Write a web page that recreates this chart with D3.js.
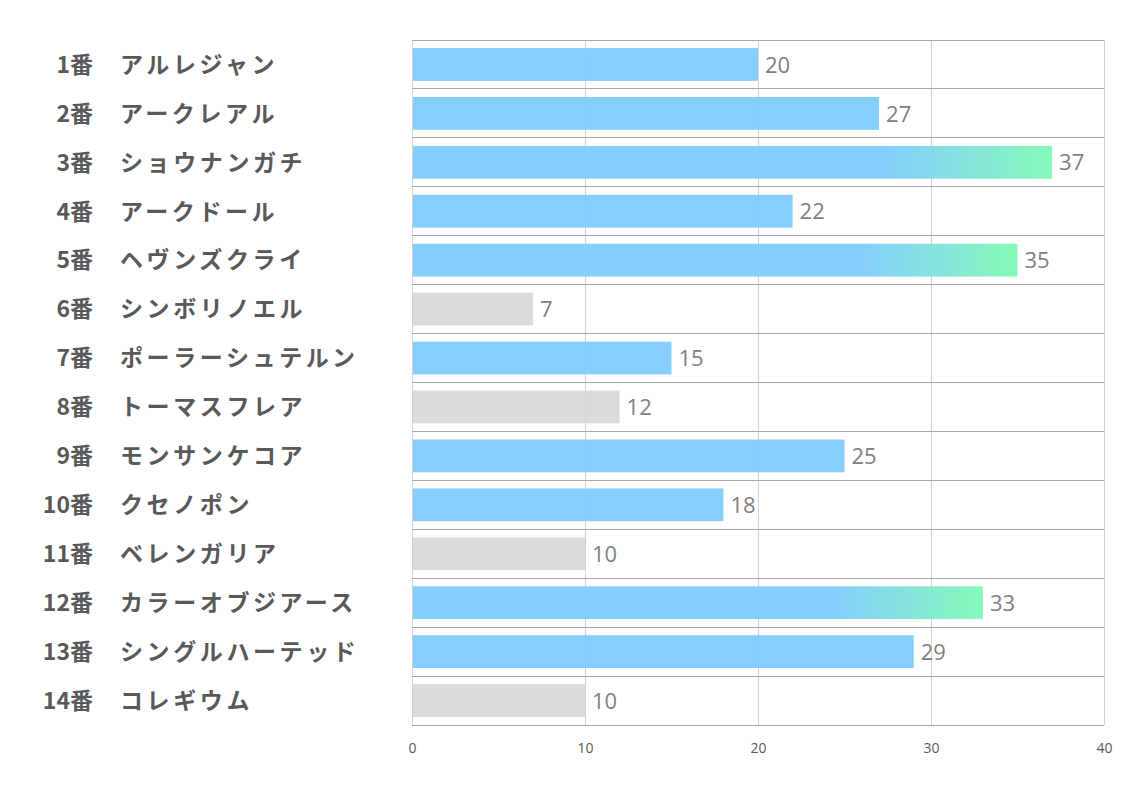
<!DOCTYPE html>
<html><head><meta charset="utf-8">
<script src="https://cdn.jsdelivr.net/npm/d3@7"></script>
<style>
html,body{margin:0;padding:0;background:#fff;}
svg{display:block;}
</style></head>
<body>
<svg id="chart" width="1134" height="793"></svg>
<script>
const numbers = ["1番","2番","3番","4番","5番","6番","7番","8番","9番","10番","11番","12番","13番","14番"];
const names = ["アルレジャン","アークレアル","ショウナンガチ","アークドール","ヘヴンズクライ","シンボリノエル","ポーラーシュテルン","トーマスフレア","モンサンケコア","クセノポン","ベレンガリア","カラーオブジアース","シングルハーテッド","コレギウム"];
const values = [20,27,37,22,35,7,15,12,25,18,10,33,29,10];
const kinds = ["blue","blue","grad","blue","grad","gray","blue","gray","blue","blue","gray","grad","blue","gray"];
const xTicks = [0,10,20,30,40];

const svg = d3.select("#chart");
const pLeft = 412, pRight = 1104, pTop = 40, pBottom = 725;
const x = d3.scaleLinear().domain([0,40]).range([pLeft,pRight]);
const y = d3.scaleBand().domain(numbers).range([pTop,pBottom]).paddingInner(0.33).paddingOuter(0.165);
const step = y.step();

const defs = svg.append("defs");
const g = defs.append("linearGradient").attr("id","grad").attr("x1","0").attr("x2","1").attr("y1","0").attr("y2","0");
g.append("stop").attr("offset","0.74").attr("stop-color","#7ecbfd");
g.append("stop").attr("offset","1").attr("stop-color","#7ffab5");

const fills = {blue:"#7ecbfd", gray:"#d9d9d9", grad:"url(#grad)"};

// vertical grid
svg.append("g").selectAll("line").data(xTicks).join("line")
  .attr("x1",d=>x(d)).attr("x2",d=>x(d)).attr("y1",pTop).attr("y2",pBottom)
  .attr("stroke","#d3d3d3").attr("stroke-width",1).attr("shape-rendering","crispEdges");

// horizontal row lines
const bounds = d3.range(numbers.length+1).map(i=>pTop+i*step);
svg.append("g").selectAll("line").data(bounds).join("line")
  .attr("x1",pLeft).attr("x2",pRight).attr("y1",d=>d).attr("y2",d=>d)
  .attr("stroke","#a6a6a6").attr("stroke-width",1).attr("shape-rendering","crispEdges");

// bars
svg.append("g").selectAll("rect").data(values).join("rect")
  .attr("x",x(0)+1).attr("y",(d,i)=>y(numbers[i]))
  .attr("width",d=>x(d)-x(0)-1).attr("height",y.bandwidth())
  .attr("fill",(d,i)=>fills[kinds[i]]).attr("opacity",0.95);

// value labels
svg.append("g").selectAll("text").data(values).join("text")
  .attr("x",d=>x(d)+7).attr("y",(d,i)=>y(numbers[i])+y.bandwidth()/2)
  .attr("dy","0.37em")
  .attr("font-family","'Open Sans','Noto Sans',sans-serif").attr("font-size",22)
  .attr("fill","#808080").text(d=>d);

// category labels
const lab = svg.append("g");
lab.selectAll("text.num").data(numbers).join("text").attr("class","num")
  .attr("x",93).attr("y",d=>y(d)+y.bandwidth()/2).attr("dy","0.36em")
  .attr("text-anchor","end")
  .attr("font-family","'Noto Sans CJK JP',sans-serif").attr("font-weight","bold").attr("font-size",23)
  .attr("fill","#595959").text(d=>d);
lab.selectAll("text.name").data(names).join("text").attr("class","name")
  .attr("x",120).attr("y",(d,i)=>y(numbers[i])+y.bandwidth()/2).attr("dy","0.36em")
  .attr("font-family","'Noto Sans CJK JP',sans-serif").attr("font-weight","bold").attr("font-size",23)
  .attr("letter-spacing",3.6)
  .attr("fill","#595959").text(d=>d);

// x axis
const ax = svg.append("g").attr("transform",`translate(0,${pBottom})`)
  .call(d3.axisBottom(x).tickValues(xTicks).tickSize(0).tickPadding(18));
ax.select(".domain").remove();
ax.selectAll("text").attr("font-family","'Open Sans','Noto Sans',sans-serif").attr("font-size",14).attr("fill","#595959");
</script>
</body></html>
